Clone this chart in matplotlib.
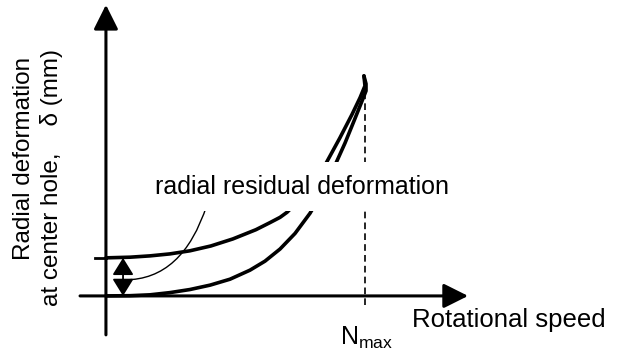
import matplotlib.pyplot as plt

plt.rcParams['font.family'] = ['Liberation Sans', 'DejaVu Sans']
plt.rcParams['mathtext.fontset'] = 'custom'
plt.rcParams['mathtext.rm'] = 'Liberation Sans'

# speed as a fraction of N_max, deformation normalised to the peak value
load_speed = [0, 0.093, 0.170, 0.247, 0.324, 0.402, 0.479, 0.556, 0.614, 0.672,
              0.730, 0.788, 0.834, 0.884, 0.923, 0.961, 0.988, 1.004, 1.004, 0.996]
load_delta = [0, 0.001, 0.005, 0.015, 0.029, 0.049, 0.076, 0.117, 0.158, 0.213,
              0.284, 0.376, 0.469, 0.593, 0.695, 0.805, 0.884, 0.932, 0.964, 1.0]

unload_speed = [0, 0.093, 0.170, 0.247, 0.324, 0.405, 0.490, 0.579, 0.633, 0.672,
                0.699, 0.749, 0.795, 0.846, 0.903, 0.950, 0.981, 1.0, 0.996]
unload_delta = [0.173, 0.176, 0.182, 0.191, 0.205, 0.227, 0.259, 0.301, 0.333, 0.357,
                0.380, 0.439, 0.507, 0.595, 0.718, 0.825, 0.901, 0.955, 1.0]

n_max = 1.0
residual = unload_delta[0]

fig = plt.figure(figsize=(6.24, 3.54), dpi=100)
ax = fig.add_axes([0, 0, 1, 1])
ax.set_xlim(-0.409, 2.0)
ax.set_ylim(-0.264, 1.345)
ax.axis('off')

# axes with arrow heads
axis_arrow = dict(arrowstyle='-|>,head_length=1.5,head_width=0.75', color='black',
                  lw=2.2, mutation_scale=10, shrinkA=0, shrinkB=0)
ax.annotate('', xy=(0, 1.323), xytext=(0, -0.177), arrowprops=axis_arrow)
ax.annotate('', xy=(1.398, 0), xytext=(-0.10, 0), arrowprops=axis_arrow)

# loading / unloading curves
ax.plot(load_speed, load_delta, color='black', lw=2.6, solid_capstyle='round',
        solid_joinstyle='round', zorder=2)
ax.plot(unload_speed, unload_delta, color='black', lw=2.6, solid_capstyle='round',
        solid_joinstyle='round', zorder=2)
ax.plot([-0.043, 0], [residual, residual], color='black', lw=2.0)

# N_max marker
ax.plot([n_max, n_max], [-0.04, 0.99], color='black', lw=1.2, ls=(0, (4, 2.5)), zorder=1)

# residual deformation arrow and leader
ax.annotate('', xy=(0.066, residual), xytext=(0.066, 0),
            arrowprops=dict(arrowstyle='<|-|>,head_length=1.05,head_width=0.65',
                            color='black', lw=1.3, mutation_scale=10,
                            shrinkA=0, shrinkB=0))
ax.annotate('', xy=(0.073, 0.073), xytext=(0.390, 0.414),
            arrowprops=dict(arrowstyle='-', color='black', lw=1.0,
                            connectionstyle='angle3,angleA=72,angleB=0',
                            shrinkA=0, shrinkB=0), zorder=1)
ax.text(0.755, 0.464, 'radial residual deformation', fontsize=18, ha='center',
        va='baseline', zorder=3,
        bbox=dict(boxstyle='square,pad=0.5', fc='white', ec='none'))

ax.text(1.181, -0.141, 'Rotational speed', fontsize=18.5, ha='left', va='baseline')
ax.text(0.903, -0.223, r'$\mathrm{N}_{\mathrm{max}}$', fontsize=18, ha='left', va='baseline')

# y-axis title, two lines
ax.text(-0.317, 0.627, 'Radial deformation', fontsize=17.5, rotation=90,
        ha='center', va='center')
ax.text(-0.209, 0.536, 'at center hole,    \u03b4 (mm)', fontsize=17.5, rotation=90,
        ha='center', va='center')

fig.savefig('out.png', dpi=100)
